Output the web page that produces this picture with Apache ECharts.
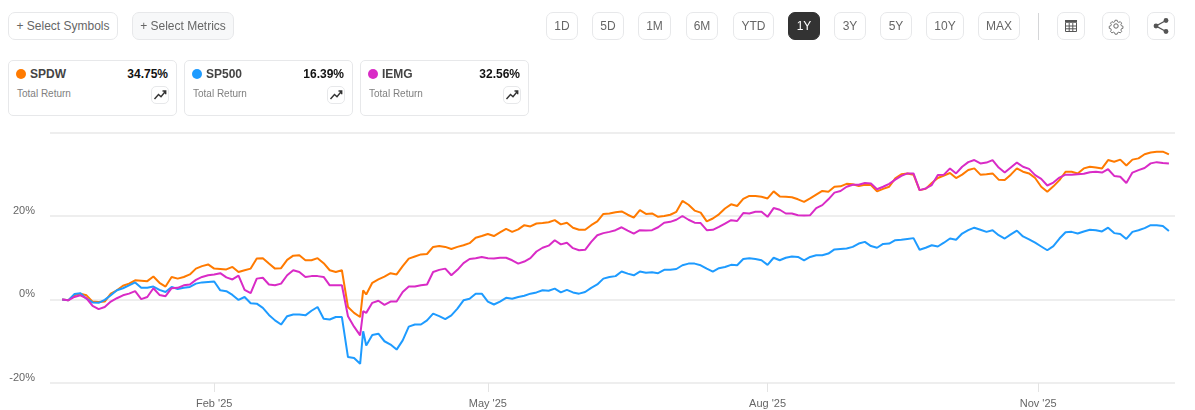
<!DOCTYPE html>
<html lang="en">
<head>
    <meta charset="UTF-8">
    <title>Total Return</title>
    <style>
        html, body { margin: 0; padding: 0; background: #fff; font-family: "Liberation Sans", Arial, sans-serif; }
        .main { position: absolute; left: 0; top: 0; width: 1195px; height: 410px; }
        .ui { position: absolute; box-sizing: border-box; }
        .btn { height: 28px; top: 12px; border: 1px solid #e7e8ea; border-radius: 7px; color: #666; font-size: 12px; line-height: 27px; text-align: center; background: #fff; }
        .card { top: 60px; width: 169px; height: 56px; border: 1px solid #e7e8ea; border-radius: 5px; background: #fff; }
        .dot { width: 10px; height: 10px; top: 8px; left: 7px; border-radius: 50%; }
        .sym { top: 5px; left: 21px; font-size: 12px; font-weight: 700; color: #444; line-height: 16px; }
        .pct { top: 5px; right: 8px; font-size: 12px; font-weight: 700; color: #111; line-height: 16px; }
        .sub { top: 26px; left: 8px; font-size: 10px; color: #808080; line-height: 14px; }
        .mini { top: 25px; right: 7px; width: 18px; height: 18px; border: 1px solid #e7e8ea; border-radius: 5px; }
        .sep { left: 1038px; top: 13px; width: 1px; height: 27px; background: #d5d6d8; }
        svg { position: absolute; left: 0; top: 0; }
    </style>
</head>
<body>
<div class="main"></div>

<div class="ui btn" style="left:8px;width:110px">+ Select Symbols</div>
<div class="ui btn" style="left:132px;width:102px;background:#f7f8f9">+ Select Metrics</div>

<div class="ui btn" style="left:546px;width:32px">1D</div>
<div class="ui btn" style="left:592px;width:32px">5D</div>
<div class="ui btn" style="left:638px;width:33px">1M</div>
<div class="ui btn" style="left:686px;width:32px">6M</div>
<div class="ui btn" style="left:733px;width:41px">YTD</div>
<div class="ui btn" style="left:788px;width:32px;background:#333;border-color:#333;color:#fff">1Y</div>
<div class="ui btn" style="left:834px;width:32px">3Y</div>
<div class="ui btn" style="left:880px;width:32px">5Y</div>
<div class="ui btn" style="left:926px;width:38px">10Y</div>
<div class="ui btn" style="left:978px;width:42px">MAX</div>
<div class="ui sep"></div>

<div class="ui btn" style="left:1057px;width:28px">
    <svg width="26" height="26"><path d="M7 7h12v2.8H7z" fill="#555"/><path d="M7.5 10v8.5h11V10M7.5 13h11M7.5 15.8h11M11.2 10v8.5M14.8 10v8.5" fill="none" stroke="#555" stroke-width="1"/></svg>
</div>
<div class="ui btn" style="left:1102px;width:28px">
    <svg width="26" height="26"><circle cx="13" cy="13" r="2.2" fill="none" stroke="#666" stroke-width="1"/><path d="M11.8 6.5h2.4l.4 1.7 1.5.7 1.5-.9 1.6 1.7-.9 1.5.6 1.5 1.7.4v2.4l-1.7.4-.6 1.5.9 1.5-1.6 1.7-1.5-.9-1.5.7-.4 1.6h-2.4l-.4-1.6-1.5-.7-1.5.9-1.6-1.7.9-1.5-.6-1.5-1.7-.4v-2.4l1.7-.4.6-1.5-.9-1.5 1.6-1.7 1.5.9 1.5-.7z" transform="translate(1.4 1.4) scale(.9)" fill="none" stroke="#666" stroke-width="1"/></svg>
</div>
<div class="ui btn" style="left:1147px;width:28px">
    <svg width="26" height="26"><path d="M18 7.5L8 13l10 5.5" fill="none" stroke="#555" stroke-width="1.4"/><circle cx="18" cy="7.5" r="2.4" fill="#555"/><circle cx="8" cy="13" r="2.4" fill="#555"/><circle cx="18" cy="18.5" r="2.4" fill="#555"/></svg>
</div>

<div class="cards"></div>

<script src="https://cdn.jsdelivr.net/npm/echarts@6/dist/echarts.min.js"></script>
<script>
    // one point every two days, one extra around the March low
    var dates = [
        '2024-12-13','2024-12-15','2024-12-17','2024-12-19','2024-12-21','2024-12-23','2024-12-25','2024-12-27','2024-12-29','2024-12-31',
        '2025-01-02','2025-01-04','2025-01-06','2025-01-08','2025-01-10','2025-01-12','2025-01-14','2025-01-16','2025-01-18','2025-01-20','2025-01-22','2025-01-24','2025-01-26','2025-01-28','2025-01-30',
        '2025-02-01','2025-02-03','2025-02-05','2025-02-07','2025-02-09','2025-02-11','2025-02-13','2025-02-15','2025-02-17','2025-02-19','2025-02-21','2025-02-23','2025-02-25','2025-02-27',
        '2025-03-01','2025-03-03','2025-03-05','2025-03-07','2025-03-09','2025-03-11','2025-03-13','2025-03-15','2025-03-17','2025-03-19','2025-03-21','2025-03-22','2025-03-23','2025-03-25','2025-03-27','2025-03-29','2025-03-31',
        '2025-04-02','2025-04-04','2025-04-06','2025-04-08','2025-04-10','2025-04-12','2025-04-14','2025-04-16','2025-04-18','2025-04-20','2025-04-22','2025-04-24','2025-04-26','2025-04-28','2025-04-30',
        '2025-05-02','2025-05-04','2025-05-06','2025-05-08','2025-05-10','2025-05-12','2025-05-14','2025-05-16','2025-05-18','2025-05-20','2025-05-22','2025-05-24','2025-05-26','2025-05-28','2025-05-30',
        '2025-06-01','2025-06-03','2025-06-05','2025-06-07','2025-06-09','2025-06-11','2025-06-13','2025-06-15','2025-06-17','2025-06-19','2025-06-21','2025-06-23','2025-06-25','2025-06-27','2025-06-29',
        '2025-07-01','2025-07-03','2025-07-05','2025-07-07','2025-07-09','2025-07-11','2025-07-13','2025-07-15','2025-07-17','2025-07-19','2025-07-21','2025-07-23','2025-07-25','2025-07-27','2025-07-29','2025-07-31',
        '2025-08-02','2025-08-04','2025-08-06','2025-08-08','2025-08-10','2025-08-12','2025-08-14','2025-08-16','2025-08-18','2025-08-20','2025-08-22','2025-08-24','2025-08-26','2025-08-28','2025-08-30',
        '2025-09-01','2025-09-03','2025-09-05','2025-09-07','2025-09-09','2025-09-11','2025-09-13','2025-09-15','2025-09-17','2025-09-19','2025-09-21','2025-09-23','2025-09-25','2025-09-27','2025-09-29',
        '2025-10-01','2025-10-03','2025-10-05','2025-10-07','2025-10-09','2025-10-11','2025-10-13','2025-10-15','2025-10-17','2025-10-19','2025-10-21','2025-10-23','2025-10-25','2025-10-27','2025-10-29','2025-10-31',
        '2025-11-02','2025-11-04','2025-11-06','2025-11-08','2025-11-10','2025-11-12','2025-11-14','2025-11-16','2025-11-18','2025-11-20','2025-11-22','2025-11-24','2025-11-26','2025-11-28','2025-11-30',
        '2025-12-02','2025-12-04','2025-12-06','2025-12-08','2025-12-10','2025-12-12'
    ];

    var spdw = [
        0,-.2,1,1.4,1,-.5,-.6,-.5,1.4,2.2,
        3.3,3.8,4.6,4.5,4.4,5.5,4,3.1,5.4,5,5.4,6,7.4,8,8.4,
        7.4,7.3,7.2,7.8,6.6,7,7.4,9.8,9.9,8.6,7.4,7.5,9.5,10.5,
        10.6,9.4,9.4,9.9,8.7,7,6.6,7,-1.8,-3.2,-4.2,2.2,1.2,4,4.8,5.5,6.3,
        6,8,9.8,10.3,10.8,10.9,12.6,12.8,12.6,12.1,12.6,13,13.5,14.8,15.2,
        15.7,15.2,16.1,16.9,16.2,16.8,17.8,17.5,18.2,18.3,18.5,19,18,18.4,17.2,
        16.7,16.7,17.8,18.7,20.5,20.6,20.9,21.1,20.3,19.6,21.4,20.5,20.6,19.8,20,
        20.3,21,23.6,22.7,21.3,20.8,18.7,19.4,20.4,21.8,22.8,22.4,24.1,24.8,24.8,24.6,
        24.2,25.9,24.7,24.6,24.5,24,23.4,24.2,25.1,26,25.8,27,27.1,27.7,27.6,
        27.2,27.5,27.4,25.9,26.5,27,29,30,30.2,29.9,26.2,26.5,27.9,29.1,29.7,
        30.3,29.1,29.9,31,31.4,29.9,30,30.2,28.7,28.6,29.9,31.4,30.6,30.2,29.1,27,
        25.8,27.1,28.6,30.6,30.6,30.2,31.4,31.8,31.6,31.4,33.4,33,33.5,32.1,33.5,
        33.8,34.8,35.2,35.4,35.4,34.75
    ];

    var sp500 = [
        0,-.2,1.3,1.5,.2,-.7,-.8,-.1,1,2.2,
        2.7,3.4,4.1,2.8,2.8,3.1,2.3,1.8,3,2.5,2.8,3,3.8,4.1,4.2,
        4.3,2.2,2,1.1,-.1,.6,-.9,-1,-2,-3.7,-5,-6,-4,-3.6,
        -3.6,-3.8,-2.7,-1.8,-4.6,-4.8,-4.2,-4.2,-13.8,-14,-15.4,-7.6,-11,-8.5,-8.2,-10,-10.8,
        -12,-9.8,-6.5,-6,-6,-5,-3.4,-4,-4.7,-3.8,-2.2,-.2,.2,1.4,1.4,
        -.5,-1.2,-.5,.4,.2,.6,.9,1.4,1.7,2.2,2.1,2.6,1.7,2.3,1.7,
        1.4,1.8,2.8,3.6,5,5.4,5.6,6.7,6.2,5.8,6.7,6.4,6.5,6.3,7.1,
        7.1,7.3,8.2,8.6,8.6,8.2,7.4,6.7,7.5,7.8,8.3,8.2,9.7,9.9,9.7,9.4,
        8.3,10,9.4,10,10.3,10.2,9.4,10.2,10.6,10.6,11,12,12.1,12.2,12.6,
        13.4,13.8,12.8,12.4,13.3,13.4,14.2,14.3,14.5,14.7,11.9,12.4,13,12.7,13.6,
        14.6,14.3,15.8,16.6,17.2,16.7,16.2,16.6,15.4,14.6,15.6,16.5,15.1,14.4,13.6,12.7,
        11.8,12.8,14.6,16.1,16.2,15.8,16.3,16.7,16.6,16.3,17.2,15.9,15.7,14.5,16.2,
        16.6,17.1,17.8,17.8,17.6,16.39
    ];

    var iemg = [
        0,-.2,.6,1,.3,-1.5,-2.3,-1.8,-.5,.3,
        1,1.4,2,.1,.6,2.7,1.1,.8,2.7,2.8,3.4,3.6,4.7,5.4,5.8,
        6,6.3,5.3,4.8,5.7,2.3,1.5,5,5.2,3.6,3.4,3.8,5.8,7,
        6.6,5.4,5.6,5.6,5.4,3.4,3.4,3.4,-4,-6.5,-8.6,-2.8,-3.2,-.8,-.3,-1.3,-.5,
        -.5,1.8,3.1,3.1,3.4,3.6,6.6,7.1,7.4,5.8,7.1,8.7,9.7,9.9,10.2,
        9.9,9.8,10,10,9.4,8.6,9.1,9.9,11.5,12.4,12.9,14.2,13.2,13.6,12.3,
        11.8,11.9,13.8,15.4,15.9,16.2,16.6,17.3,16.5,15.8,16.6,16.5,16.6,17.3,18.4,
        18.6,19.1,20,19.1,18.4,18.3,16.6,16.7,17.4,18.2,19,18.8,20.7,20.6,21,21,
        19.8,21.9,21.5,20.6,20.6,20.2,20.1,20.2,21.9,22.6,24,25.6,26,27,27.5,
        27.5,27.9,27.8,26.4,27,27.7,28.7,29.6,30.2,30.2,26.2,26.6,27.4,29.8,29.9,
        31.4,30.2,31.8,32.9,33.4,32.6,32.8,33.4,31.6,30.4,31.6,32.8,31.8,31.3,29.8,28.9,
        27.3,28,29.2,29.9,29.9,30,30.1,30.5,30.6,30.4,31.2,29.6,29.4,27.9,30.4,
        31,31.5,32.6,32.9,32.7,32.56
    ];

    var symbols = ['SPDW', 'SP500', 'IEMG'];
    var totals = ['34.75%', '16.39%', '32.56%'];
    var colors = ['#ff7a00', '#1e9bff', '#d92bc6'];
    var tickDates = ['2025-02-01', '2025-05-02', '2025-08-02', '2025-10-30'];
    var tickLabels = ["Feb '25", "May '25", "Aug '25", "Nov '25"];

    // legend cards above the plot
    var cardsHtml = '';
    symbols.forEach(function(name, i) {
        cardsHtml += '<div class="ui card" style="left:' + (8 + i * 176) + 'px">' +
            '<div class="ui dot" style="background:' + colors[i] + '"></div>' +
            '<div class="ui sym">' + name + '</div>' +
            '<div class="ui pct">' + totals[i] + '</div>' +
            '<div class="ui sub">Total Return</div>' +
            '<div class="ui mini"><svg width="16" height="16"><path d="M2.5 12l4-4.5 2.5 2.2 4.5-5.5M10.5 4h3.2v3.2" fill="none" stroke="#333" stroke-width="1.4"/></svg></div>' +
            '</div>';
    });
    document.querySelector('.cards').innerHTML = cardsHtml;

    var main = document.querySelector(".main");
    var mainEcharts = echarts.init(main);

    // x is a plain value axis of timestamps, time axis refuses customValues
    var tickTimes = tickDates.map(function(d) { return Date.parse(d); });

    function pairs(values) {
        return values.map(function(v, i) { return [Date.parse(dates[i]), v]; });
    }

    var option = {
        animation: false,
        grid: { left: 50, right: 20, top: 132.5, bottom: 27 },
        xAxis: {
            type: 'value',
            min: Date.parse('2024-12-09'),
            max: Date.parse('2025-12-14'),
            splitLine: { show: false },
            axisLine: { show: false, onZero: false },
            axisTick: { show: true, customValues: tickTimes, length: 9, lineStyle: { color: '#e4e4e4' } },
            axisLabel: {
                customValues: tickTimes,
                margin: 15,
                color: '#666',
                fontFamily: 'Liberation Sans',
                fontSize: 11,
                formatter: function(value) {
                    return tickLabels[tickTimes.indexOf(value)];
                }
            }
        },
        yAxis: {
            type: 'value',
            min: -20,
            max: 40,
            interval: 20,
            axisLine: { show: false },
            axisTick: { show: false },
            splitLine: { lineStyle: { color: '#e8e8e8', width: 1.5 } },
            axisLabel: {
                margin: 15,
                color: '#666',
                fontFamily: 'Liberation Sans',
                fontSize: 11,
                verticalAlign: 'bottom',
                formatter: function(v) { return v === 40 ? '' : v + '%'; }
            }
        },
        series: [
            { name: 'SPDW', type: 'line', data: pairs(spdw), showSymbol: false, lineStyle: { width: 2, color: colors[0] }, itemStyle: { color: colors[0] } },
            { name: 'SP500', type: 'line', data: pairs(sp500), showSymbol: false, lineStyle: { width: 2, color: colors[1] }, itemStyle: { color: colors[1] } },
            { name: 'IEMG', type: 'line', data: pairs(iemg), showSymbol: false, lineStyle: { width: 2, color: colors[2] }, itemStyle: { color: colors[2] } }
        ]
    };
    mainEcharts.setOption(option);
</script>
</body>
</html>
